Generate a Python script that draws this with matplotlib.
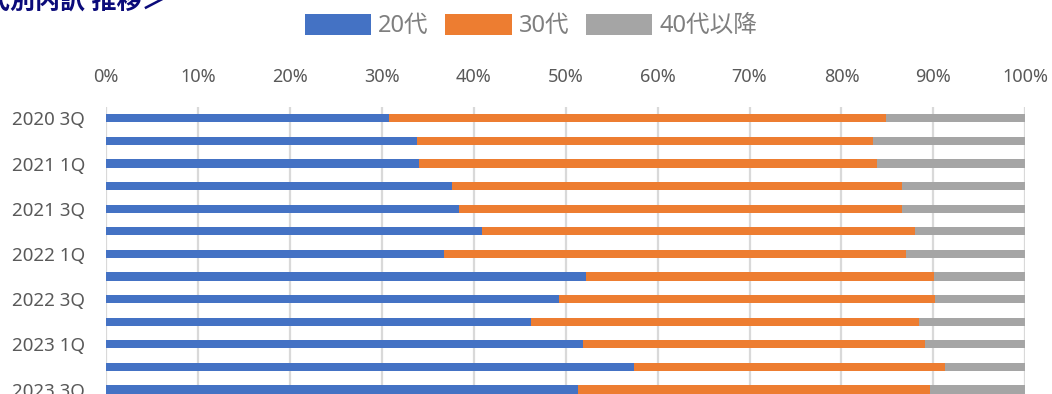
import matplotlib
matplotlib.use("Agg")
import matplotlib.pyplot as plt
import numpy as np

plt.rcParams['font.family'] = ['Noto Sans', 'Noto Sans CJK JP', 'DejaVu Sans']

# quarters, top to bottom
quarters = ["2020 3Q", "2020 4Q", "2021 1Q", "2021 2Q", "2021 3Q", "2021 4Q",
            "2022 1Q", "2022 2Q", "2022 3Q", "2022 4Q", "2023 1Q", "2023 2Q", "2023 3Q"]
tick_labels = [q if i % 2 == 0 else "" for i, q in enumerate(quarters)]

# shares in %
age20 = [30.8, 33.8, 34.0, 37.6, 38.4, 40.9, 36.8, 52.2, 49.3, 46.2, 51.9, 57.4, 51.3]
age30 = [54.0, 49.6, 49.9, 49.0, 48.2, 47.1, 50.2, 37.9, 40.9, 42.2, 37.2, 33.9, 38.3]
age40 = [15.2, 16.6, 16.1, 13.4, 13.4, 12.0, 13.0, 9.9, 9.8, 11.6, 10.9, 8.7, 10.4]

series_names = ["20代", "30代", "40代以降"]
colors = ["#4472C4", "#ED7D31", "#A5A5A5"]

fig = plt.figure(figsize=(10.52, 3.94), dpi=100)
# plot area runs past the bottom edge (the reference is cropped)
ax = fig.add_axes([106/1052, 1 - 400.8/394, (1025.3-106)/1052, (400.8-107)/394])

y = np.arange(len(quarters))
left = np.zeros(len(quarters))
for vals, name, c in zip([age20, age30, age40], series_names, colors):
    v = np.array(vals) / 100.0
    ax.barh(y, v, left=left, height=0.37, color=c, label=name, zorder=3)
    left = left + v

ax.set_xlim(0, 1)
ax.set_ylim(len(quarters) - 0.5, -0.5)
ticks = np.arange(0, 1.01, 0.1)
ax.set_xticks(ticks)
ax.set_xticklabels([f"{int(round(t*100))}%" for t in ticks])
ax.xaxis.tick_top()
ax.set_yticks(y)
ax.set_yticklabels(tick_labels)
ax.tick_params(axis='x', length=0, pad=15, labelsize=13, labelcolor="#595959")
ax.tick_params(axis='y', length=0, pad=15, labelsize=13.5, labelcolor="#595959")
ax.grid(axis='x', color="#D9D9D9", linewidth=1.6, zorder=0)
for s in ax.spines.values():
    s.set_visible(False)

fig.legend(loc='center', bbox_to_anchor=(531/1052, 1 - 26/394), ncol=3, frameon=False,
           fontsize=17, labelcolor="#7F7F7F", handlelength=2.8, handleheight=1.0,
           handletextpad=0.3, columnspacing=0.7)

fig.text(0.158, 1 - 10/394, "＜年代別内訳 推移＞", ha='right', va='baseline',
         fontsize=18, fontweight='bold', color="#0B0B7A")

fig.savefig("out.png", dpi=100)
